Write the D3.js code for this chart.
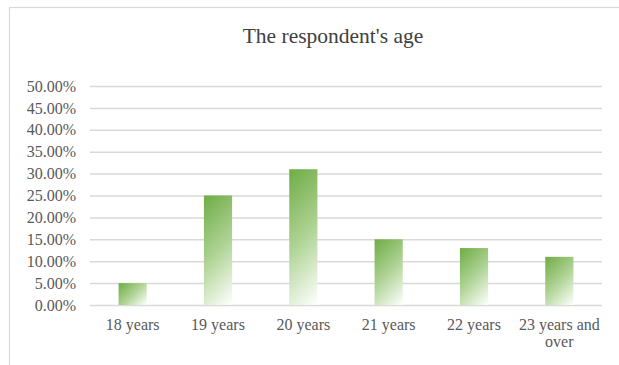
<!DOCTYPE html>
<html lang="en">
<head>
  <meta charset="UTF-8">
  <title>The respondent's age</title>
  <script src="https://d3js.org/d3.v7.min.js"></script>
  <style>
    body { margin: 0; background: #fff; }
    text { font-family: "Liberation Serif", "Times New Roman", serif; fill: #595959; }
  </style>
</head>
<body>
  <div id="chart"></div>
  <script>
    // data
    const categories = ["18 years", "19 years", "20 years", "21 years", "22 years", "23 years and over"];
    const shares = [0.05, 0.25, 0.31, 0.15, 0.13, 0.11];
    const yTicks = [0, 0.05, 0.10, 0.15, 0.20, 0.25, 0.30, 0.35, 0.40, 0.45, 0.50];

    const width = 619, height = 365;
    const plot = { left: 90, right: 602, top: 86, bottom: 305 };

    const svg = d3.select("#chart").append("svg")
      .attr("width", width)
      .attr("height", height);

    // chart frame (runs off the right and bottom edges)
    svg.append("rect")
      .attr("x", 9.5).attr("y", 7.5)
      .attr("width", 640).attr("height", 400)
      .attr("fill", "#fff")
      .attr("stroke", "#d9d9d9")
      .attr("stroke-width", 1.2);

    svg.append("text")
      .attr("x", 333).attr("y", 43)
      .attr("text-anchor", "middle")
      .style("font-size", "21.5px")
      .style("fill", "#404040")
      .text("The respondent's age");

    const x = d3.scaleBand()
      .domain(categories)
      .range([plot.left, plot.right])
      .paddingInner(0.67)
      .paddingOuter(0.335);

    const y = d3.scaleLinear()
      .domain([0, 0.5])
      .range([plot.bottom, plot.top]);

    // gridlines + y labels
    const yAxis = d3.axisLeft(y)
      .tickValues(yTicks)
      .tickFormat(d => (d * 100).toFixed(2) + "%")
      .tickSize(-(plot.right - plot.left))
      .tickPadding(14);

    const gy = svg.append("g")
      .attr("transform", `translate(${plot.left},0)`)
      .call(yAxis);
    gy.select(".domain").remove();
    gy.selectAll(".tick line").attr("stroke", "#d9d9d9").attr("stroke-width", 1.5);
    gy.selectAll(".tick text").style("font-size", "16px").attr("fill", "#595959");

    // one diagonal gradient per bar, 45 degrees in screen space
    const defs = svg.append("defs");
    categories.forEach((c, i) => {
      const bx = x(c), by = y(shares[i]), bw = x.bandwidth(), bh = y(0) - y(shares[i]);
      const t = (bw + bh) / 2;
      const g = defs.append("linearGradient")
        .attr("id", "grad" + i)
        .attr("gradientUnits", "userSpaceOnUse")
        .attr("x1", bx).attr("y1", by)
        .attr("x2", bx + t).attr("y2", by + t);
      g.append("stop").attr("offset", 0).attr("stop-color", "#6fac46");
      g.append("stop").attr("offset", 0.5).attr("stop-color", "#aed394");
      g.append("stop").attr("offset", 1).attr("stop-color", "#ffffff");
    });

    svg.append("g").selectAll("rect")
      .data(shares)
      .join("rect")
      .attr("x", (d, i) => x(categories[i]))
      .attr("y", d => y(d))
      .attr("width", x.bandwidth())
      .attr("height", d => y(0) - y(d))
      .attr("fill", (d, i) => `url(#grad${i})`);

    // category labels, last one wraps onto two lines
    const xl = svg.append("g");
    categories.forEach(c => {
      const lines = c === "23 years and over" ? ["23 years and", "over"] : [c];
      const t = xl.append("text")
        .attr("text-anchor", "middle")
        .style("font-size", "16px");
      lines.forEach((ln, k) => {
        t.append("tspan")
          .attr("x", x(c) + x.bandwidth() / 2)
          .attr("y", 330 + k * 17)
          .text(ln);
      });
    });
  </script>
</body>
</html>
